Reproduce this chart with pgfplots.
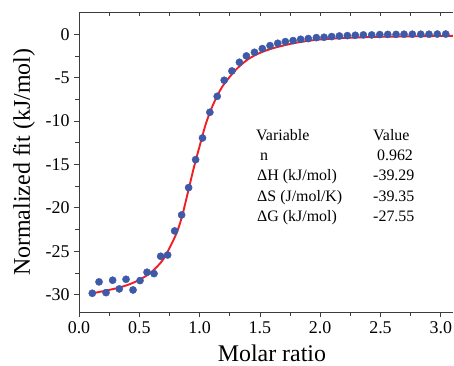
\documentclass[border=0pt]{standalone}
\usepackage{fontspec}
\setmainfont{Liberation Serif}
\usepackage{pgfplots}
\pgfplotsset{compat=1.18}
\definecolor{dotblue}{RGB}{61,89,168}
\definecolor{fitred}{RGB}{238,32,38}
\definecolor{axgray}{RGB}{60,60,60}
\begin{document}
\begin{tikzpicture}
\useasboundingbox (-79bp,-54bp) rectangle (375bp,312bp);
\begin{axis}[
  at={(0,0)}, anchor=south west,
  x=120.6bp, y=8.68bp,
  xmin=0, xmax=3.1, ymin=-32, ymax=2.5,
  axis y line*=left,
  axis x line*=box,
  axis line style={axgray, line width=0.9bp},
  xtick={0,0.5,...,3.0},
  ytick={-30,-25,...,0},
  minor x tick num=1, minor y tick num=1,
  xticklabels={0.0,0.5,1.0,1.5,2.0,2.5,3.0},
  tick align=outside,
  xtick pos=bottom,
  major tick length=5bp, minor tick length=3.5bp,
  tick style={axgray, line width=0.8bp},
  /pgf/number format/assume math mode=true,
  tick label style={font=\fontsize{18}{20}\selectfont},
  xticklabel style={yshift=-1bp},
  yticklabel style={xshift=-1bp},
  xlabel={Molar ratio},
  ylabel={Normalized fit (kJ/mol)},
  label style={font=\fontsize{24}{28}\selectfont},
  xlabel style={at={(axis cs:1.6,-32)}, anchor=base, yshift=-49.5bp},
  ylabel style={at={(axis cs:0,-14.75)}, anchor=base, yshift=49bp},
  clip=true,
]
\addplot[only marks, mark=*, mark size=3.6bp, dotblue, mark options={fill=dotblue, draw=dotblue}] coordinates {
(0.110,-29.84) (0.166,-28.53) (0.224,-29.77) (0.279,-28.34) (0.334,-29.34)
(0.390,-28.23) (0.448,-29.46) (0.506,-28.38) (0.564,-27.42) (0.622,-27.58)
(0.677,-25.58) (0.735,-25.43) (0.793,-22.66) (0.851,-20.82) (0.909,-17.67)
(0.967,-14.45) (1.024,-11.95) (1.085,-8.99) (1.146,-7.15) (1.204,-5.30)
(1.268,-4.23) (1.330,-3.23) (1.388,-2.50) (1.455,-2.08) (1.520,-1.66)
(1.584,-1.31) (1.648,-1.04) (1.711,-0.85) (1.775,-0.73) (1.838,-0.58)
(1.901,-0.50) (1.968,-0.39) (2.032,-0.35) (2.095,-0.27) (2.159,-0.20)
(2.225,-0.16) (2.291,-0.12) (2.358,-0.08) (2.427,-0.08) (2.494,-0.04)
(2.560,-0.02) (2.629,-0.02) (2.695,0.0) (2.764,0.0) (2.834,0.0)
(2.902,0.0) (2.971,0.02) (3.041,0.02) (3.107,0.02)
};
\addplot[fitred, line width=1.9bp, smooth, tension=0.5] coordinates {
(0.11,-29.85) (0.2,-29.6) (0.3,-29.3) (0.4,-28.9) (0.5,-28.3) (0.6,-27.4)
(0.7,-25.9) (0.8,-23.2) (0.85,-21.2) (0.9,-18.4) (0.95,-15.5) (1.0,-12.9)
(1.05,-10.4) (1.1,-8.5) (1.15,-7.0) (1.2,-5.8) (1.3,-4.1) (1.4,-2.9)
(1.5,-2.15) (1.6,-1.65) (1.7,-1.28) (1.8,-0.98) (1.9,-0.76) (2.0,-0.6)
(2.2,-0.43) (2.4,-0.33) (2.6,-0.27) (2.8,-0.23) (3.0,-0.2) (3.12,-0.19)
};
\node[anchor=base west, font=\fontsize{16}{18}\selectfont, inner sep=0pt] at (axis cs:1.468,-12.29) {Variable};
\node[anchor=base west, font=\fontsize{16}{18}\selectfont, inner sep=0pt] at (axis cs:2.438,-12.29) {Value};
\node[anchor=base west, font=\fontsize{16}{18}\selectfont, inner sep=0pt] at (axis cs:1.50,-14.6) {n};
\node[anchor=base west, font=\fontsize{16}{18}\selectfont, inner sep=0pt] at (axis cs:2.47,-14.6) {0.962};
\node[anchor=base west, font=\fontsize{16}{18}\selectfont, inner sep=0pt] at (axis cs:1.476,-16.9) {ΔH (kJ/mol)};
\node[anchor=base west, font=\fontsize{16}{18}\selectfont, inner sep=0pt] at (axis cs:2.438,-16.9) {-39.29};
\node[anchor=base west, font=\fontsize{16}{18}\selectfont, inner sep=0pt] at (axis cs:1.476,-19.26) {ΔS (J/mol/K)};
\node[anchor=base west, font=\fontsize{16}{18}\selectfont, inner sep=0pt] at (axis cs:2.438,-19.26) {-39.35};
\node[anchor=base west, font=\fontsize{16}{18}\selectfont, inner sep=0pt] at (axis cs:1.476,-21.62) {ΔG (kJ/mol)};
\node[anchor=base west, font=\fontsize{16}{18}\selectfont, inner sep=0pt] at (axis cs:2.438,-21.62) {-27.55};
\end{axis}
\begin{axis}[
  at={(0,0)}, anchor=south west,
  x=120.6bp, y=8.68bp,
  xmin=0, xmax=3.1, ymin=-32, ymax=2.5,
  axis x line*=top, axis y line=none,
  axis line style={axgray, line width=0.9bp},
  xtick={0,0.25,...,3.0},
  xticklabels={},
  tick align=inside,
  major tick length=3bp,
  tick style={axgray, line width=0.8bp},
]
\end{axis}
\end{tikzpicture}
\end{document}
